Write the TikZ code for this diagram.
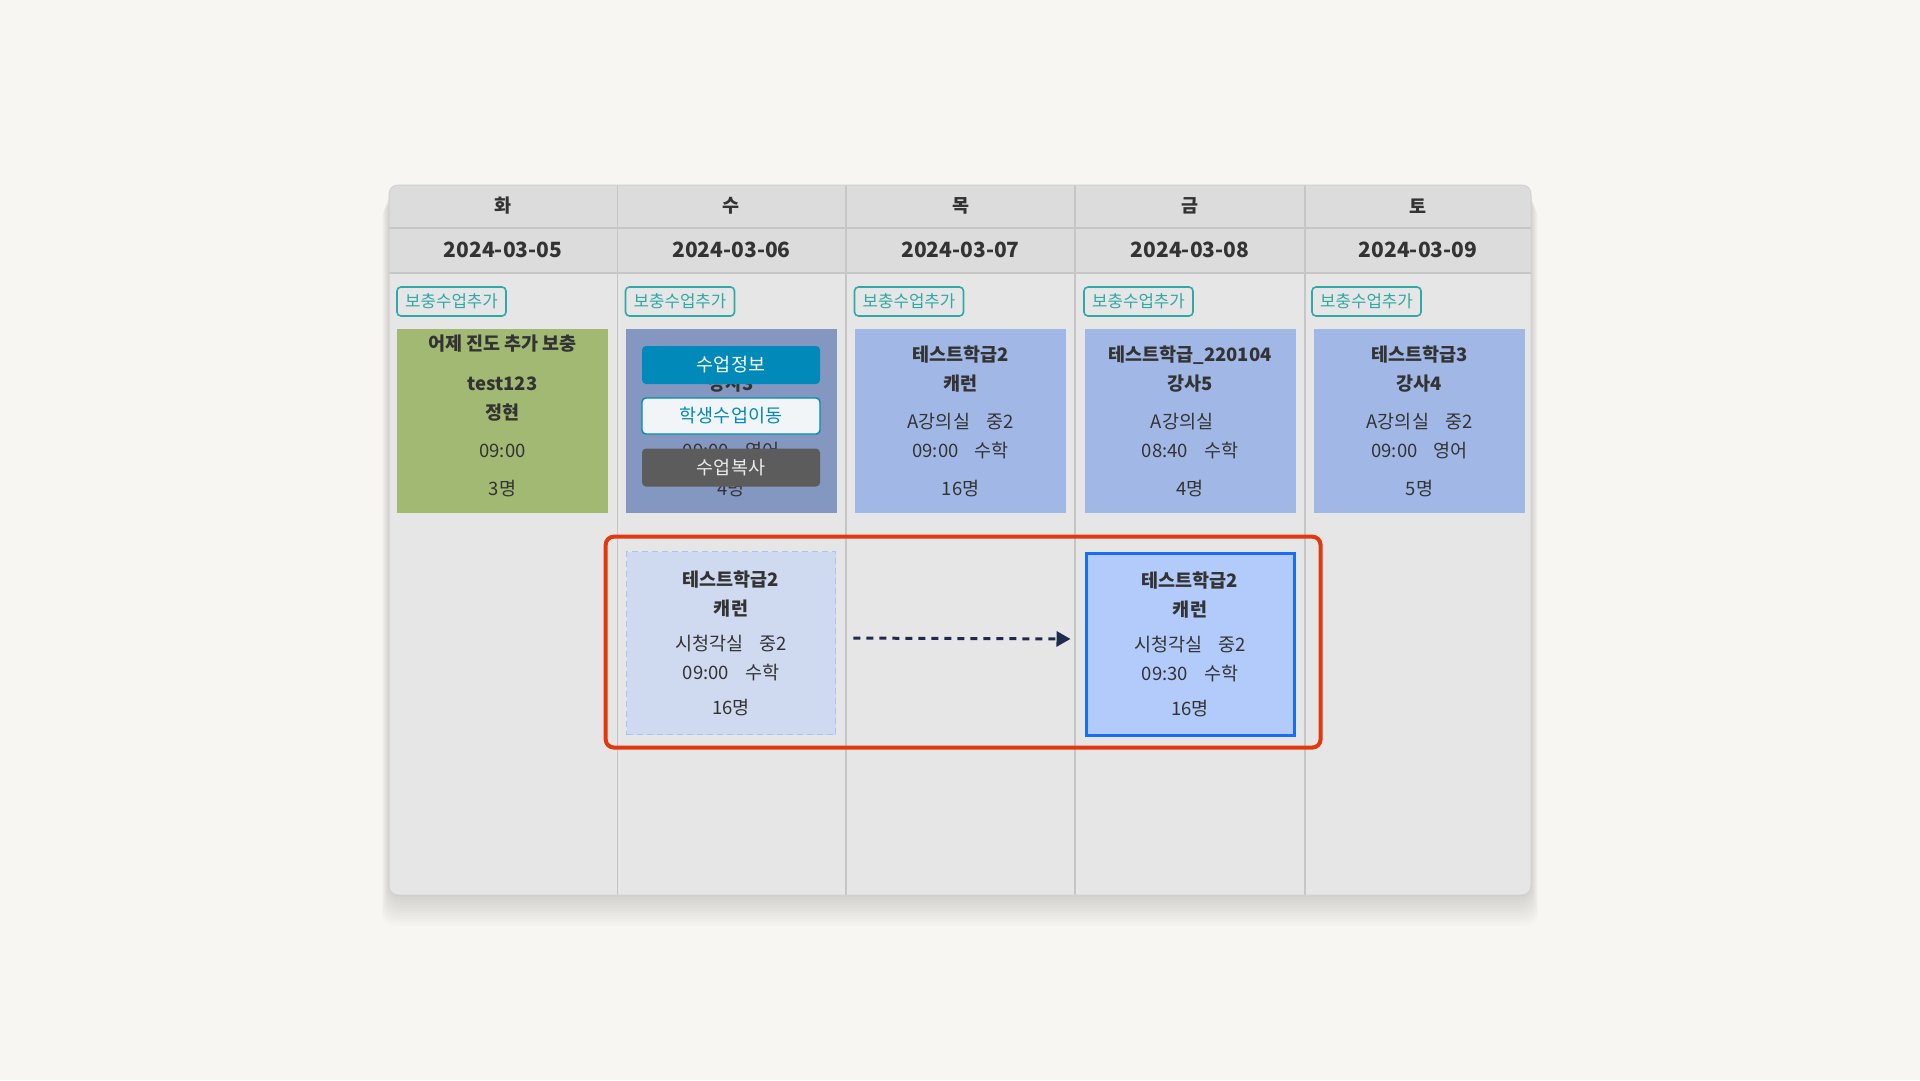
\documentclass[tikz,border=0pt]{standalone}
\usepackage{fontspec}
\setmainfont{Noto Sans CJK KR}
\usepackage{xcolor}
\usepackage{tikz}
\usetikzlibrary{positioning,calc,arrows.meta}

\definecolor{paper}{HTML}{F7F6F2}
\definecolor{headgray}{HTML}{DCDCDC}
\definecolor{bodygray}{HTML}{E6E6E6}
\definecolor{gridline}{HTML}{C6C6C6}
\definecolor{ink}{HTML}{333333}
\definecolor{addteal}{HTML}{2FA9A5}
\definecolor{lessongreen}{HTML}{A2B974}
\definecolor{lessonblue}{HTML}{A1B8E6}
\definecolor{lessonhover}{HTML}{8497C0}
\definecolor{infoblue}{HTML}{0089B9}
\definecolor{movewhite}{HTML}{F2F5F7}
\definecolor{copygray}{HTML}{5C5C5C}
\definecolor{ghostfill}{HTML}{CFDAF0}
\definecolor{ghostline}{HTML}{A7C4F5}
\definecolor{newfill}{HTML}{B2CBFA}
\definecolor{newline}{HTML}{1A6EF5}
\definecolor{alertred}{HTML}{E2380F}
\definecolor{arrowink}{HTML}{1D2B4F}

\newcommand{\cardfont}{\fontsize{18.5}{29}\selectfont}

\tikzset{
    grid/.style={gridline, line width=1.6pt},
    dayname/.style={text=ink, font=\bfseries\fontsize{18.5}{18}\selectfont},
    datename/.style={text=ink, font=\bfseries\fontsize{21}{21}\selectfont},
    addbtn/.style={draw=addteal, line width=1.6pt, rounded corners=4pt, text=addteal,
        minimum width=109pt, minimum height=29pt, inner sep=0pt, font=\fontsize{16.8}{16}\selectfont},
    card/.style={minimum width=211pt, minimum height=184pt, inner sep=0pt, align=center,
        text=ink, font=\cardfont},
    cardtext/.style={inner sep=0pt, align=center, text=ink, font=\cardfont},
    menubtn/.style={rounded corners=4pt, minimum width=178pt, minimum height=38pt,
        inner sep=0pt, font=\fontsize{18.5}{18}\selectfont},
    movearrow/.style={arrowink, line width=3pt, dash pattern=on 7pt off 6pt,
        -{Triangle[length=14pt, width=15pt]}},
    highlight/.style={alertred, line width=4pt, rounded corners=8pt}
}

\begin{document}
\begin{tikzpicture}[x=1pt, y=-1pt]
    \useasboundingbox (0,0) rectangle (1920,1080);
    \fill[paper] (0,0) rectangle (1920,1080);

    % Shadow
    \foreach \s in {1,...,12}
        \fill[black, opacity=0.011, rounded corners=14pt]
            (389-\s*0.6, 185+\s*1.6) rectangle (1531+\s*0.6, 895+\s*2.6);

    % Table
    \begin{scope}
        \clip[rounded corners=9pt] (389,185) rectangle (1531,895);
        \fill[bodygray] (389,185) rectangle (1531,895);
        \fill[headgray] (389,185) rectangle (1531,273);
    \end{scope}
    \draw[grid] (389,228) -- (1531,228);
    \draw[grid] (389,273) -- (1531,273);
    \foreach \xx in {617.5, 846, 1075, 1305}
        \draw[grid] (\xx,185) -- (\xx,895);
    \draw[gridline!80, line width=1pt, rounded corners=9pt] (389,185) rectangle (1531,895);

    % Headers
    \foreach \d/\dt/\cx [count=\i from 0] in {화/05/503, 수/06/731.5, 목/07/960.5, 금/08/1190, 토/09/1418} {
        \node[dayname] (day-\i) at (\cx, 206) {\d};
        \node[datename] (date-\i) at (\cx, 250) {2024-03-\dt};
        \node[addbtn] (add-\i) at (\cx-51.5, 301.5) {보충수업추가};
    }

    % Tue
    \node[card, fill=lessongreen] (tue) at (502.5,421) {};
    \node[cardtext] (tue-text) at ([yshift=5pt]tue.center)
        {\textbf{어제 진도 추가 보충}\\[11pt]\textbf{test123}\\\textbf{정현}\\[9pt]09:00\\[9pt]3명};

    % Wed (hover menu)
    \node[card, fill=lessonhover] (wed) at (731,421)
        {\textbf{\phantom{테스트학급1}}\\\textbf{강사3}\\[9pt]\phantom{A강의실}\\09:00\hspace{16pt}영어\\[9pt]4명};
    \node[menubtn, fill=infoblue, text=white] (info) at (731,365) {수업정보};
    \node[menubtn, minimum height=36pt, fill=movewhite, draw=infoblue, line width=1.4pt,
        text=infoblue] (move) at (731,416) {학생수업이동};
    \node[menubtn, fill=copygray, text=white!92!black] (copy) at (731,467.5) {수업복사};

    % Thu, Fri, Sat
    \node[card, fill=lessonblue] (thu) at (960.5,421)
        {\textbf{테스트학급2}\\\textbf{캐런}\\[9pt]A강의실\hspace{16pt}중2\\09:00\hspace{16pt}수학\\[9pt]16명};
    \node[card, fill=lessonblue] (fri) at (1190,421)
        {\textbf{테스트학급\_220104}\\\textbf{강사5}\\[9pt]A강의실\rule{16pt}{0pt}\\08:40\hspace{16pt}수학\\[9pt]4명};
    \node[card, fill=lessonblue] (sat) at (1419.5,421)
        {\textbf{테스트학급3}\\\textbf{강사4}\\[9pt]A강의실\hspace{16pt}중2\\09:00\hspace{16pt}영어\\[9pt]5명};

    % Moved lesson
    \node[card, minimum width=209pt, minimum height=183pt, fill=ghostfill, draw=ghostline,
        line width=1.6pt, dash pattern=on 6pt off 4pt] (oldlesson) at (731,643)
        {\textbf{테스트학급2}\\\textbf{캐런}\\[6pt]시청각실\hspace{16pt}중2\\09:00\hspace{16pt}수학\\[6pt]16명};
    \node[card, minimum width=208pt, minimum height=182pt, fill=newfill, draw=newline,
        line width=3pt] (newlesson) at (1190,644)
        {\textbf{테스트학급2}\\\textbf{캐런}\\[6pt]시청각실\hspace{16pt}중2\\09:30\hspace{16pt}수학\\[6pt]16명};

    \draw[movearrow, shorten <=17pt, shorten >=14pt]
        ([yshift=5pt]oldlesson.east) -- ([yshift=5pt]newlesson.west);

    % Highlight
    \draw[highlight] ([shift={(-20,-14)}]oldlesson.north west)
        rectangle ([shift={(25,11)}]newlesson.south east);
\end{tikzpicture}
\end{document}
